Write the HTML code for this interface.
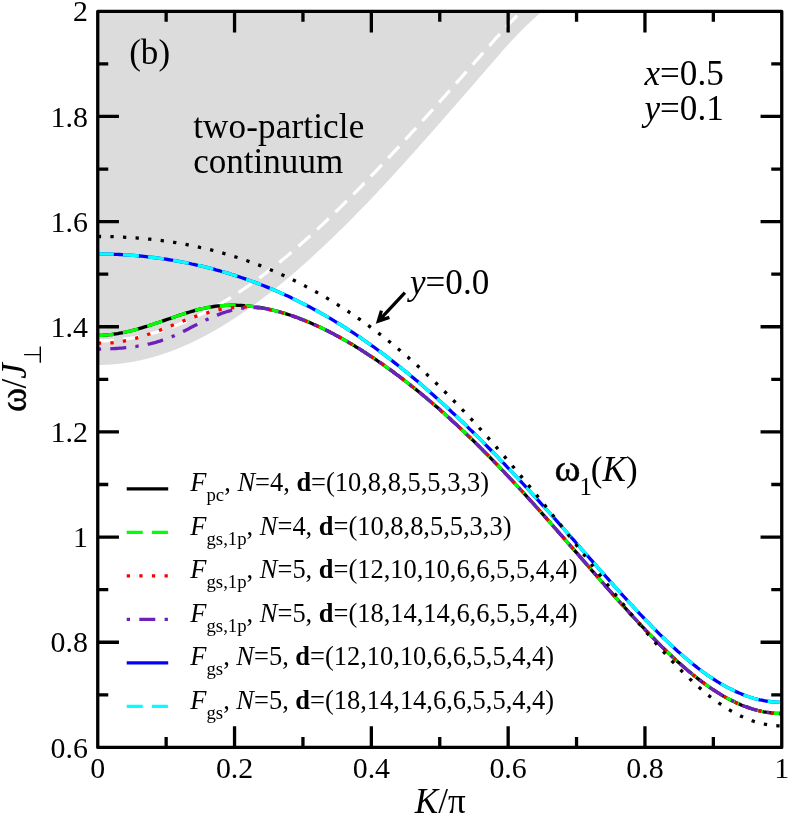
<!DOCTYPE html>
<html><head><meta charset="utf-8"><title>omega1(K)</title>
<style>
html,body{margin:0;padding:0;background:#fff;}
svg{display:block;font-family:"Liberation Serif",serif;will-change:transform;}
text{fill:#000;white-space:pre;}
</style></head>
<body>
<svg width="789" height="816" viewBox="0 0 789 816">
<rect width="789" height="816" fill="#fff"/>
<path d="M97.8,11.3 L542.0,11.3 L541.8,11.6 L540.8,12.4 L539.8,13.3 L538.8,14.2 L537.8,15.1 L536.8,16.0 L535.8,16.9 L534.8,17.8 L533.8,18.7 L532.8,19.6 L531.8,20.6 L530.8,21.5 L529.8,22.4 L528.8,23.4 L527.8,24.3 L526.8,25.3 L525.8,26.3 L524.8,27.2 L523.8,28.2 L522.8,29.2 L521.8,30.2 L520.8,31.2 L519.8,32.2 L518.8,33.2 L517.8,34.3 L516.8,35.3 L515.8,36.3 L514.8,37.4 L513.8,38.4 L512.8,39.5 L511.8,40.6 L510.7,41.7 L509.8,42.7 L508.8,43.8 L507.7,44.9 L506.8,46.1 L505.8,47.2 L504.7,48.3 L503.8,49.4 L502.7,50.6 L501.7,51.7 L500.8,52.9 L499.7,54.0 L498.8,55.2 L497.8,56.4 L496.7,57.5 L495.8,58.7 L494.7,59.8 L493.8,61.0 L492.8,62.1 L491.7,63.3 L490.8,64.4 L489.8,65.6 L488.7,66.7 L487.8,67.9 L486.7,69.1 L485.7,70.2 L484.8,71.4 L483.7,72.5 L482.8,73.7 L481.8,74.8 L480.7,76.0 L479.8,77.1 L478.7,78.3 L477.8,79.4 L476.8,80.6 L475.7,81.7 L474.8,82.9 L473.8,84.0 L472.7,85.2 L471.8,86.4 L470.7,87.5 L469.7,88.7 L468.8,89.8 L467.7,91.0 L466.8,92.1 L465.8,93.3 L464.7,94.4 L463.8,95.5 L462.7,96.7 L461.8,97.8 L460.8,99.0 L459.7,100.1 L458.8,101.3 L457.8,102.4 L456.7,103.6 L455.8,104.7 L454.7,105.9 L453.7,107.0 L452.8,108.1 L451.7,109.3 L450.8,110.4 L449.8,111.6 L448.7,112.7 L447.8,113.9 L446.7,115.0 L445.8,116.2 L444.8,117.3 L443.7,118.4 L442.8,119.6 L441.8,120.7 L440.7,121.9 L439.8,123.0 L438.8,124.1 L437.8,125.3 L436.8,126.4 L435.7,127.6 L434.8,128.7 L433.8,129.8 L432.8,131.0 L431.8,132.1 L430.8,133.2 L429.8,134.4 L428.8,135.5 L427.7,136.6 L426.8,137.8 L425.8,138.9 L424.8,140.0 L423.8,141.1 L422.8,142.3 L421.8,143.4 L420.8,144.5 L419.7,145.6 L418.8,146.8 L417.8,147.9 L416.8,149.0 L415.8,150.1 L414.8,151.2 L413.8,152.4 L412.8,153.5 L411.7,154.6 L410.8,155.7 L409.8,156.8 L408.8,157.9 L407.8,159.0 L406.8,160.1 L405.8,161.3 L404.8,162.4 L403.7,163.5 L402.8,164.6 L401.8,165.7 L400.8,166.8 L399.8,167.9 L398.8,169.0 L397.8,170.1 L396.8,171.2 L395.7,172.3 L394.8,173.4 L393.8,174.5 L392.8,175.6 L391.8,176.7 L390.8,177.7 L389.8,178.8 L388.8,179.9 L387.7,181.0 L386.8,182.1 L385.8,183.2 L384.8,184.3 L383.8,185.3 L382.8,186.4 L381.8,187.5 L380.8,188.6 L379.7,189.6 L378.8,190.7 L377.8,191.8 L376.8,192.9 L375.8,193.9 L374.8,195.0 L373.8,196.1 L372.8,197.1 L371.7,198.2 L370.8,199.2 L369.8,200.3 L368.8,201.3 L367.8,202.4 L366.8,203.4 L365.8,204.4 L364.8,205.5 L363.7,206.5 L362.8,207.5 L361.8,208.5 L360.8,209.6 L359.8,210.6 L358.8,211.6 L357.8,212.6 L356.8,213.6 L355.7,214.7 L354.8,215.7 L353.8,216.7 L352.8,217.7 L351.8,218.7 L350.8,219.7 L349.8,220.7 L348.8,221.7 L347.8,222.7 L346.8,223.7 L345.8,224.7 L344.8,225.7 L343.8,226.7 L342.8,227.7 L341.8,228.7 L340.8,229.6 L339.8,230.6 L338.8,231.6 L337.8,232.6 L336.8,233.6 L335.8,234.5 L334.8,235.5 L333.8,236.5 L332.8,237.4 L331.8,238.4 L330.8,239.4 L329.8,240.3 L328.8,241.3 L327.8,242.2 L326.8,243.2 L325.8,244.1 L324.8,245.1 L323.8,246.0 L322.8,247.0 L321.8,247.9 L320.8,248.8 L319.8,249.8 L318.8,250.7 L317.8,251.6 L316.8,252.6 L315.8,253.5 L314.8,254.4 L313.8,255.3 L312.8,256.2 L311.8,257.2 L310.8,258.1 L309.8,259.0 L308.8,259.9 L307.8,260.8 L306.8,261.7 L305.8,262.6 L304.8,263.5 L303.8,264.4 L302.8,265.3 L301.8,266.1 L300.8,267.0 L299.8,267.9 L298.8,268.8 L297.8,269.7 L296.8,270.5 L295.8,271.4 L294.8,272.3 L293.8,273.1 L292.8,274.0 L291.8,274.9 L290.8,275.7 L289.8,276.6 L288.8,277.4 L287.8,278.3 L286.8,279.1 L285.8,279.9 L284.8,280.8 L283.8,281.6 L282.8,282.4 L281.8,283.3 L280.8,284.1 L279.8,284.9 L278.8,285.7 L277.8,286.5 L276.8,287.3 L275.8,288.1 L274.8,289.0 L273.8,289.8 L272.8,290.5 L271.8,291.3 L270.8,292.1 L269.8,292.9 L268.8,293.7 L267.8,294.5 L266.8,295.3 L265.8,296.0 L264.8,296.8 L263.8,297.6 L262.8,298.3 L261.8,299.1 L260.8,299.8 L259.8,300.6 L258.8,301.3 L257.8,302.1 L256.8,302.8 L255.8,303.6 L254.7,304.3 L253.8,305.0 L252.8,305.8 L251.8,306.5 L250.7,307.2 L249.8,307.9 L248.8,308.6 L247.8,309.3 L246.7,310.0 L245.8,310.7 L244.8,311.4 L243.8,312.1 L242.7,312.8 L241.8,313.5 L240.8,314.2 L239.8,314.8 L238.7,315.5 L237.8,316.2 L236.8,316.9 L235.8,317.5 L234.7,318.2 L233.8,318.8 L232.8,319.5 L231.8,320.1 L230.7,320.8 L229.8,321.4 L228.8,322.0 L227.8,322.7 L226.7,323.3 L225.8,323.9 L224.8,324.5 L223.8,325.1 L222.8,325.7 L221.8,326.3 L220.8,326.9 L219.8,327.5 L218.8,328.1 L217.8,328.7 L216.8,329.3 L215.8,329.9 L214.8,330.4 L213.8,331.0 L212.8,331.6 L211.8,332.1 L210.8,332.7 L209.8,333.2 L208.8,333.8 L207.8,334.3 L206.8,334.9 L205.8,335.4 L204.8,335.9 L203.8,336.5 L202.8,337.0 L201.8,337.5 L200.8,338.0 L199.8,338.5 L198.8,339.0 L197.8,339.5 L196.8,340.0 L195.8,340.5 L194.8,341.0 L193.8,341.5 L192.8,342.0 L191.8,342.4 L190.8,342.9 L189.8,343.4 L188.8,343.8 L187.8,344.3 L186.8,344.7 L185.8,345.2 L184.8,345.6 L183.8,346.1 L182.8,346.5 L181.8,346.9 L180.8,347.3 L179.8,347.8 L178.8,348.2 L177.8,348.6 L176.8,349.0 L175.8,349.4 L174.8,349.8 L173.8,350.2 L172.8,350.5 L171.8,350.9 L170.8,351.3 L169.8,351.7 L168.8,352.0 L167.8,352.4 L166.8,352.7 L165.8,353.1 L164.8,353.4 L163.8,353.8 L162.8,354.1 L161.8,354.4 L160.8,354.8 L159.8,355.1 L158.8,355.4 L157.8,355.7 L156.8,356.0 L155.8,356.3 L154.8,356.6 L153.8,356.9 L152.8,357.2 L151.8,357.5 L150.8,357.7 L149.8,358.0 L148.8,358.3 L147.8,358.5 L146.8,358.8 L145.8,359.0 L144.8,359.3 L143.8,359.5 L142.8,359.8 L141.8,360.0 L140.8,360.2 L139.8,360.4 L138.8,360.6 L137.8,360.8 L136.8,361.0 L135.8,361.2 L134.8,361.4 L133.8,361.6 L132.8,361.8 L131.8,362.0 L130.8,362.2 L129.8,362.3 L128.8,362.5 L127.8,362.6 L126.8,362.8 L125.8,362.9 L124.8,363.1 L123.8,363.2 L122.8,363.3 L121.8,363.5 L120.8,363.6 L119.8,363.7 L118.8,363.8 L117.8,363.9 L116.8,364.0 L115.8,364.1 L114.8,364.2 L113.8,364.3 L112.8,364.4 L111.8,364.4 L110.8,364.5 L109.8,364.6 L108.8,364.6 L107.8,364.7 L106.8,364.7 L105.8,364.8 L104.8,364.8 L103.8,364.8 L102.8,364.9 L101.8,364.9 L100.8,364.9 L99.8,364.9 L98.8,364.9 L97.8,364.9 Z" fill="#dcdcdc" stroke="none"/>
<path d="M97.8,340.9 L98.8,340.9 L99.8,340.9 L100.8,340.9 L101.8,340.9 L102.8,340.8 L103.8,340.8 L104.8,340.8 L105.8,340.7 L106.8,340.7 L107.8,340.7 L108.8,340.6 L109.8,340.5 L110.8,340.5 L111.8,340.4 L112.8,340.3 L113.8,340.3 L114.8,340.2 L115.8,340.1 L116.8,340.0 L117.8,339.9 L118.8,339.8 L119.8,339.7 L120.8,339.6 L121.8,339.5 L122.8,339.3 L123.8,339.2 L124.8,339.1 L125.8,338.9 L126.8,338.8 L127.8,338.7 L128.8,338.5 L129.8,338.3 L130.8,338.2 L131.8,338.0 L132.8,337.8 L133.8,337.7 L134.8,337.5 L135.8,337.3 L136.8,337.1 L137.8,336.9 L138.8,336.7 L139.8,336.5 L140.8,336.3 L141.8,336.0 L142.8,335.8 L143.8,335.6 L144.8,335.3 L145.8,335.1 L146.8,334.9 L147.8,334.6 L148.8,334.4 L149.8,334.1 L150.8,333.8 L151.8,333.6 L152.8,333.3 L153.8,333.0 L154.8,332.7 L155.8,332.4 L156.8,332.1 L157.8,331.8 L158.8,331.5 L159.8,331.2 L160.8,330.9 L161.8,330.6 L162.8,330.3 L163.8,329.9 L164.8,329.6 L165.8,329.3 L166.8,328.9 L167.8,328.6 L168.8,328.2 L169.8,327.9 L170.8,327.5 L171.8,327.1 L172.8,326.8 L173.8,326.4 L174.8,326.0 L175.8,325.6 L176.8,325.2 L177.8,324.8 L178.8,324.4 L179.8,324.0 L180.8,323.6 L181.8,323.2 L182.8,322.8 L183.8,322.3 L184.8,321.9 L185.8,321.5 L186.8,321.0 L187.8,320.6 L188.8,320.2 L189.8,319.7 L190.8,319.2 L191.8,318.8 L192.8,318.3 L193.8,317.8 L194.8,317.4 L195.8,316.9 L196.8,316.4 L197.8,315.9 L198.8,315.4 L199.8,314.9 L200.8,314.4 L201.8,313.9 L202.8,313.4 L203.8,312.9 L204.8,312.4 L205.8,311.9 L206.8,311.3 L207.8,310.8 L208.8,310.3 L209.8,309.7 L210.8,309.2 L211.8,308.7 L212.8,308.1 L213.8,307.6 L214.8,307.0 L215.8,306.4 L216.8,305.9 L217.8,305.3 L218.8,304.7 L219.8,304.1 L220.8,303.6 L221.8,303.0 L222.8,302.4 L223.8,301.8 L224.8,301.2 L225.8,300.6 L226.7,300.0 L227.8,299.3 L228.8,298.7 L229.8,298.1 L230.7,297.5 L231.8,296.8 L232.8,296.2 L233.8,295.6 L234.7,294.9 L235.8,294.3 L236.8,293.6 L237.8,293.0 L238.7,292.3 L239.8,291.7 L240.8,291.0 L241.8,290.3 L242.7,289.7 L243.8,289.0 L244.8,288.3 L245.8,287.6 L246.7,286.9 L247.8,286.2 L248.8,285.5 L249.8,284.8 L250.7,284.1 L251.8,283.4 L252.8,282.7 L253.8,282.0 L254.7,281.3 L255.8,280.5 L256.8,279.8 L257.8,279.1 L258.8,278.3 L259.8,277.6 L260.8,276.9 L261.8,276.1 L262.8,275.4 L263.8,274.6 L264.8,273.8 L265.8,273.1 L266.8,272.3 L267.8,271.5 L268.8,270.8 L269.8,270.0 L270.8,269.2 L271.8,268.4 L272.8,267.6 L273.8,266.8 L274.8,266.0 L275.8,265.2 L276.8,264.4 L277.8,263.6 L278.8,262.8 L279.8,262.0 L280.8,261.2 L281.8,260.3 L282.8,259.5 L283.8,258.7 L284.8,257.9 L285.8,257.0 L286.8,256.2 L287.8,255.4 L288.8,254.5 L289.8,253.7 L290.8,252.8 L291.8,252.0 L292.8,251.1 L293.8,250.3 L294.8,249.4 L295.8,248.5 L296.8,247.7 L297.8,246.8 L298.8,245.9 L299.8,245.1 L300.8,244.2 L301.8,243.3 L302.8,242.4 L303.8,241.5 L304.8,240.6 L305.8,239.7 L306.8,238.8 L307.8,237.9 L308.8,237.0 L309.8,236.1 L310.8,235.2 L311.8,234.3 L312.8,233.4 L313.8,232.5 L314.8,231.6 L315.8,230.7 L316.8,229.7 L317.8,228.8 L318.8,227.9 L319.8,226.9 L320.8,226.0 L321.8,225.1 L322.8,224.1 L323.8,223.2 L324.8,222.3 L325.8,221.3 L326.8,220.4 L327.8,219.4 L328.8,218.5 L329.8,217.5 L330.8,216.5 L331.8,215.6 L332.8,214.6 L333.8,213.7 L334.8,212.7 L335.8,211.7 L336.8,210.7 L337.8,209.8 L338.8,208.8 L339.8,207.8 L340.8,206.8 L341.8,205.9 L342.8,204.9 L343.8,203.9 L344.8,202.9 L345.8,201.9 L346.8,200.9 L347.8,199.9 L348.8,198.9 L349.8,197.9 L350.8,196.9 L351.8,195.9 L352.8,194.9 L353.8,193.9 L354.8,192.9 L355.7,191.9 L356.8,190.9 L357.8,189.8 L358.8,188.8 L359.8,187.8 L360.8,186.8 L361.8,185.8 L362.8,184.7 L363.7,183.7 L364.8,182.7 L365.8,181.7 L366.8,180.6 L367.8,179.6 L368.8,178.6 L369.8,177.5 L370.8,176.5 L371.7,175.4 L372.8,174.4 L373.8,173.4 L374.8,172.3 L375.8,171.3 L376.8,170.2 L377.8,169.2 L378.8,168.1 L379.7,167.1 L380.8,166.0 L381.8,164.9 L382.8,163.9 L383.8,162.8 L384.8,161.8 L385.8,160.7 L386.8,159.6 L387.7,158.6 L388.8,157.5 L389.8,156.4 L390.8,155.4 L391.8,154.3 L392.8,153.2 L393.8,152.2 L394.8,151.1 L395.7,150.0 L396.8,148.9 L397.8,147.9 L398.8,146.8 L399.8,145.7 L400.8,144.6 L401.8,143.5 L402.8,142.4 L403.7,141.4 L404.8,140.3 L405.8,139.2 L406.8,138.1 L407.8,137.0 L408.8,135.9 L409.8,134.8 L410.8,133.7 L411.7,132.6 L412.8,131.5 L413.8,130.4 L414.8,129.4 L415.8,128.3 L416.8,127.2 L417.8,126.1 L418.8,125.0 L419.7,123.9 L420.8,122.8 L421.8,121.6 L422.8,120.5 L423.8,119.4 L424.8,118.3 L425.8,117.2 L426.8,116.1 L427.7,115.0 L428.8,113.9 L429.8,112.8 L430.8,111.7 L431.8,110.6 L432.8,109.5 L433.8,108.3 L434.8,107.2 L435.7,106.1 L436.8,105.0 L437.8,103.9 L438.8,102.8 L439.8,101.7 L440.7,100.5 L441.8,99.4 L442.8,98.3 L443.7,97.2 L444.8,96.1 L445.8,94.9 L446.7,93.8 L447.8,92.7 L448.7,91.6 L449.8,90.5 L450.8,89.3 L451.7,88.2 L452.8,87.1 L453.7,86.0 L454.7,84.8 L455.8,83.7 L456.7,82.6 L457.8,81.5 L458.8,80.3 L459.7,79.2 L460.8,78.1 L461.8,77.0 L462.7,75.8 L463.8,74.7 L464.7,73.6 L465.8,72.4 L466.8,71.3 L467.7,70.2 L468.8,69.0 L469.7,67.9 L470.7,66.8 L471.8,65.7 L472.7,64.5 L473.8,63.4 L474.8,62.3 L475.7,61.1 L476.8,60.0 L477.8,58.9 L478.7,57.7 L479.8,56.6 L480.7,55.5 L481.8,54.3 L482.8,53.2 L483.7,52.1 L484.8,50.9 L485.7,49.8 L486.7,48.7 L487.8,47.6 L488.7,46.4 L489.8,45.3 L490.8,44.2 L491.7,43.0 L492.8,41.9 L493.8,40.8 L494.7,39.6 L495.8,38.5 L496.7,37.4 L497.8,36.3 L498.8,35.2 L499.7,34.1 L500.8,33.0 L501.7,31.9 L502.7,30.8 L503.8,29.7 L504.7,28.6 L505.8,27.5 L506.8,26.4 L507.7,25.4 L508.8,24.3 L509.8,23.2 L510.7,22.2 L511.8,21.1 L512.8,20.1 L513.8,19.0 L514.8,18.0 L515.8,17.0 L516.8,15.9 L517.8,14.9 L518.8,13.9 L519.8,12.9 L520.8,11.9 L521.8,10.9 L522.8,9.8" fill="none" stroke="#fff" stroke-width="3.2" stroke-dasharray="16 9.2"/>
<g fill="none" stroke-width="3.3" stroke-linejoin="round">
<path d="M97.8,335.4 L99.8,335.4 L101.8,335.3 L103.8,335.2 L105.8,335.1 L107.8,334.9 L109.8,334.7 L111.8,334.5 L113.8,334.2 L115.8,333.9 L117.8,333.6 L119.8,333.2 L121.8,332.8 L123.8,332.4 L125.8,332.0 L127.8,331.5 L129.8,331.1 L131.8,330.6 L133.8,330.1 L135.8,329.5 L137.8,329.0 L139.8,328.4 L141.8,327.8 L143.8,327.2 L145.8,326.6 L147.8,326.0 L149.8,325.3 L151.8,324.7 L153.8,324.0 L155.8,323.3 L157.8,322.7 L159.8,322.0 L161.8,321.3 L163.8,320.6 L165.8,319.9 L167.8,319.2 L169.8,318.6 L171.8,317.9 L173.8,317.2 L175.8,316.5 L177.8,315.8 L179.8,315.1 L181.8,314.5 L183.8,313.8 L185.8,313.2 L187.8,312.6 L189.8,312.0 L191.8,311.4 L193.8,310.8 L195.8,310.2 L197.8,309.7 L199.8,309.2 L201.8,308.7 L203.8,308.3 L205.8,307.8 L207.8,307.5 L209.8,307.1 L211.8,306.8 L213.8,306.5 L215.8,306.2 L217.8,306.0 L219.8,305.8 L221.8,305.6 L223.8,305.5 L225.8,305.3 L227.8,305.3 L229.8,305.2 L231.8,305.2 L233.8,305.2 L235.8,305.2 L237.8,305.3 L239.8,305.3 L241.8,305.4 L243.8,305.6 L245.8,305.7 L247.8,305.9 L249.8,306.1 L251.8,306.3 L253.8,306.6 L255.8,306.9 L257.8,307.2 L259.8,307.5 L261.8,307.8 L263.8,308.2 L265.8,308.6 L267.8,309.0 L269.8,309.4 L271.8,309.9 L273.8,310.4 L275.8,310.9 L277.8,311.4 L279.8,312.0 L281.8,312.5 L283.8,313.1 L285.8,313.7 L287.8,314.4 L289.8,315.0 L291.8,315.7 L293.8,316.4 L295.8,317.1 L297.8,317.8 L299.8,318.6 L301.8,319.4 L303.8,320.1 L305.8,321.0 L307.8,321.8 L309.8,322.6 L311.8,323.5 L313.8,324.4 L315.8,325.3 L317.8,326.2 L319.8,327.1 L321.8,328.1 L323.8,329.0 L325.8,330.0 L327.8,331.0 L329.8,332.0 L331.8,333.1 L333.8,334.1 L335.8,335.2 L337.8,336.2 L339.8,337.3 L341.8,338.5 L343.8,339.6 L345.8,340.7 L347.8,341.9 L349.8,343.1 L351.8,344.2 L353.8,345.4 L355.7,346.7 L357.8,347.9 L359.8,349.1 L361.8,350.4 L363.7,351.7 L365.8,353.0 L367.8,354.3 L369.8,355.6 L371.7,356.9 L373.8,358.2 L375.8,359.6 L377.8,361.0 L379.7,362.3 L381.8,363.7 L383.8,365.1 L385.8,366.6 L387.7,368.0 L389.8,369.4 L391.8,370.9 L393.8,372.4 L395.7,373.9 L397.8,375.3 L399.8,376.9 L401.8,378.4 L403.7,379.9 L405.8,381.5 L407.8,383.0 L409.8,384.6 L411.7,386.2 L413.8,387.8 L415.8,389.4 L417.8,391.0 L419.7,392.6 L421.8,394.3 L423.8,395.9 L425.8,397.6 L427.7,399.3 L429.8,401.0 L431.8,402.7 L433.8,404.4 L435.7,406.1 L437.8,407.8 L439.8,409.6 L441.8,411.4 L443.7,413.1 L445.8,414.9 L447.8,416.7 L449.8,418.5 L451.7,420.4 L453.7,422.2 L455.8,424.0 L457.8,425.9 L459.7,427.8 L461.8,429.7 L463.8,431.5 L465.8,433.5 L467.7,435.4 L469.7,437.3 L471.8,439.2 L473.8,441.2 L475.7,443.1 L477.8,445.1 L479.8,447.1 L481.8,449.1 L483.7,451.1 L485.7,453.1 L487.8,455.1 L489.8,457.2 L491.7,459.2 L493.8,461.3 L495.8,463.3 L497.8,465.4 L499.7,467.5 L501.7,469.6 L503.8,471.7 L505.8,473.8 L507.7,475.9 L509.8,478.1 L511.8,480.2 L513.8,482.3 L515.8,484.5 L517.8,486.7 L519.8,488.8 L521.8,491.0 L523.8,493.2 L525.8,495.4 L527.8,497.6 L529.8,499.8 L531.8,502.0 L533.8,504.2 L535.8,506.5 L537.8,508.7 L539.8,510.9 L541.8,513.2 L543.8,515.4 L545.8,517.7 L547.8,519.9 L549.8,522.2 L551.8,524.5 L553.8,526.8 L555.8,529.0 L557.8,531.3 L559.8,533.6 L561.8,535.9 L563.8,538.2 L565.8,540.5 L567.8,542.8 L569.8,545.1 L571.8,547.3 L573.8,549.6 L575.8,551.9 L577.8,554.2 L579.8,556.5 L581.8,558.8 L583.8,561.1 L585.8,563.4 L587.8,565.7 L589.8,568.0 L591.8,570.3 L593.8,572.6 L595.8,574.9 L597.8,577.2 L599.8,579.5 L601.8,581.8 L603.8,584.0 L605.8,586.3 L607.8,588.6 L609.8,590.9 L611.8,593.1 L613.7,595.4 L615.8,597.6 L617.8,599.9 L619.8,602.1 L621.8,604.3 L623.8,606.5 L625.8,608.7 L627.8,610.9 L629.7,613.1 L631.8,615.3 L633.8,617.5 L635.8,619.7 L637.8,621.8 L639.8,623.9 L641.8,626.1 L643.8,628.2 L645.7,630.3 L647.8,632.4 L649.8,634.4 L651.8,636.5 L653.8,638.5 L655.8,640.6 L657.8,642.6 L659.8,644.6 L661.7,646.6 L663.8,648.5 L665.8,650.5 L667.8,652.4 L669.8,654.3 L671.8,656.2 L673.8,658.0 L675.8,659.9 L677.7,661.7 L679.8,663.5 L681.8,665.3 L683.8,667.0 L685.8,668.8 L687.8,670.5 L689.8,672.1 L691.8,673.8 L693.7,675.4 L695.8,677.0 L697.8,678.6 L699.8,680.1 L701.8,681.6 L703.8,683.1 L705.8,684.6 L707.8,686.0 L709.7,687.4 L711.8,688.8 L713.8,690.1 L715.8,691.4 L717.8,692.7 L719.8,693.9 L721.8,695.1 L723.8,696.3 L725.7,697.4 L727.8,698.5 L729.8,699.6 L731.8,700.6 L733.8,701.6 L735.8,702.5 L737.8,703.5 L739.8,704.3 L741.7,705.2 L743.8,706.0 L745.8,706.7 L747.8,707.4 L749.8,708.1 L751.8,708.8 L753.8,709.4 L755.8,709.9 L757.7,710.5 L759.8,710.9 L761.8,711.4 L763.8,711.8 L765.8,712.1 L767.8,712.5 L769.8,712.7 L771.8,713.0 L773.7,713.1 L775.8,713.3 L777.8,713.4 L779.8,713.5 L781.8,713.5" stroke="#000"/>
<path d="M97.8,335.4 L99.8,335.4 L101.8,335.3 L103.8,335.2 L105.8,335.1 L107.8,334.9 L109.8,334.7 L111.8,334.5 L113.8,334.2 L115.8,333.9 L117.8,333.6 L119.8,333.2 L121.8,332.8 L123.8,332.4 L125.8,332.0 L127.8,331.5 L129.8,331.1 L131.8,330.6 L133.8,330.1 L135.8,329.5 L137.8,329.0 L139.8,328.4 L141.8,327.8 L143.8,327.2 L145.8,326.6 L147.8,326.0 L149.8,325.3 L151.8,324.7 L153.8,324.0 L155.8,323.3 L157.8,322.7 L159.8,322.0 L161.8,321.3 L163.8,320.6 L165.8,319.9 L167.8,319.2 L169.8,318.6 L171.8,317.9 L173.8,317.2 L175.8,316.5 L177.8,315.8 L179.8,315.1 L181.8,314.5 L183.8,313.8 L185.8,313.2 L187.8,312.6 L189.8,312.0 L191.8,311.4 L193.8,310.8 L195.8,310.2 L197.8,309.7 L199.8,309.2 L201.8,308.7 L203.8,308.3 L205.8,307.8 L207.8,307.5 L209.8,307.1 L211.8,306.8 L213.8,306.5 L215.8,306.2 L217.8,306.0 L219.8,305.8 L221.8,305.6 L223.8,305.5 L225.8,305.3 L227.8,305.3 L229.8,305.2 L231.8,305.2 L233.8,305.2 L235.8,305.2 L237.8,305.3 L239.8,305.3 L241.8,305.4 L243.8,305.6 L245.8,305.7 L247.8,305.9 L249.8,306.1 L251.8,306.3 L253.8,306.6 L255.8,306.9 L257.8,307.2 L259.8,307.5 L261.8,307.8 L263.8,308.2 L265.8,308.6 L267.8,309.0 L269.8,309.4 L271.8,309.9 L273.8,310.4 L275.8,310.9 L277.8,311.4 L279.8,312.0 L281.8,312.5 L283.8,313.1 L285.8,313.7 L287.8,314.4 L289.8,315.0 L291.8,315.7 L293.8,316.4 L295.8,317.1 L297.8,317.8 L299.8,318.6 L301.8,319.4 L303.8,320.1 L305.8,321.0 L307.8,321.8 L309.8,322.6 L311.8,323.5 L313.8,324.4 L315.8,325.3 L317.8,326.2 L319.8,327.1 L321.8,328.1 L323.8,329.0 L325.8,330.0 L327.8,331.0 L329.8,332.0 L331.8,333.1 L333.8,334.1 L335.8,335.2 L337.8,336.2 L339.8,337.3 L341.8,338.5 L343.8,339.6 L345.8,340.7 L347.8,341.9 L349.8,343.1 L351.8,344.2 L353.8,345.4 L355.7,346.7 L357.8,347.9 L359.8,349.1 L361.8,350.4 L363.7,351.7 L365.8,353.0 L367.8,354.3 L369.8,355.6 L371.7,356.9 L373.8,358.2 L375.8,359.6 L377.8,361.0 L379.7,362.3 L381.8,363.7 L383.8,365.1 L385.8,366.6 L387.7,368.0 L389.8,369.4 L391.8,370.9 L393.8,372.4 L395.7,373.9 L397.8,375.3 L399.8,376.9 L401.8,378.4 L403.7,379.9 L405.8,381.5 L407.8,383.0 L409.8,384.6 L411.7,386.2 L413.8,387.8 L415.8,389.4 L417.8,391.0 L419.7,392.6 L421.8,394.3 L423.8,395.9 L425.8,397.6 L427.7,399.3 L429.8,401.0 L431.8,402.7 L433.8,404.4 L435.7,406.1 L437.8,407.8 L439.8,409.6 L441.8,411.4 L443.7,413.1 L445.8,414.9 L447.8,416.7 L449.8,418.5 L451.7,420.4 L453.7,422.2 L455.8,424.0 L457.8,425.9 L459.7,427.8 L461.8,429.7 L463.8,431.5 L465.8,433.5 L467.7,435.4 L469.7,437.3 L471.8,439.2 L473.8,441.2 L475.7,443.1 L477.8,445.1 L479.8,447.1 L481.8,449.1 L483.7,451.1 L485.7,453.1 L487.8,455.1 L489.8,457.2 L491.7,459.2 L493.8,461.3 L495.8,463.3 L497.8,465.4 L499.7,467.5 L501.7,469.6 L503.8,471.7 L505.8,473.8 L507.7,475.9 L509.8,478.1 L511.8,480.2 L513.8,482.3 L515.8,484.5 L517.8,486.7 L519.8,488.8 L521.8,491.0 L523.8,493.2 L525.8,495.4 L527.8,497.6 L529.8,499.8 L531.8,502.0 L533.8,504.2 L535.8,506.5 L537.8,508.7 L539.8,510.9 L541.8,513.2 L543.8,515.4 L545.8,517.7 L547.8,519.9 L549.8,522.2 L551.8,524.5 L553.8,526.8 L555.8,529.0 L557.8,531.3 L559.8,533.6 L561.8,535.9 L563.8,538.2 L565.8,540.5 L567.8,542.8 L569.8,545.1 L571.8,547.3 L573.8,549.6 L575.8,551.9 L577.8,554.2 L579.8,556.5 L581.8,558.8 L583.8,561.1 L585.8,563.4 L587.8,565.7 L589.8,568.0 L591.8,570.3 L593.8,572.6 L595.8,574.9 L597.8,577.2 L599.8,579.5 L601.8,581.8 L603.8,584.0 L605.8,586.3 L607.8,588.6 L609.8,590.9 L611.8,593.1 L613.7,595.4 L615.8,597.6 L617.8,599.9 L619.8,602.1 L621.8,604.3 L623.8,606.5 L625.8,608.7 L627.8,610.9 L629.7,613.1 L631.8,615.3 L633.8,617.5 L635.8,619.7 L637.8,621.8 L639.8,623.9 L641.8,626.1 L643.8,628.2 L645.7,630.3 L647.8,632.4 L649.8,634.4 L651.8,636.5 L653.8,638.5 L655.8,640.6 L657.8,642.6 L659.8,644.6 L661.7,646.6 L663.8,648.5 L665.8,650.5 L667.8,652.4 L669.8,654.3 L671.8,656.2 L673.8,658.0 L675.8,659.9 L677.7,661.7 L679.8,663.5 L681.8,665.3 L683.8,667.0 L685.8,668.8 L687.8,670.5 L689.8,672.1 L691.8,673.8 L693.7,675.4 L695.8,677.0 L697.8,678.6 L699.8,680.1 L701.8,681.6 L703.8,683.1 L705.8,684.6 L707.8,686.0 L709.7,687.4 L711.8,688.8 L713.8,690.1 L715.8,691.4 L717.8,692.7 L719.8,693.9 L721.8,695.1 L723.8,696.3 L725.7,697.4 L727.8,698.5 L729.8,699.6 L731.8,700.6 L733.8,701.6 L735.8,702.5 L737.8,703.5 L739.8,704.3 L741.7,705.2 L743.8,706.0 L745.8,706.7 L747.8,707.4 L749.8,708.1 L751.8,708.8 L753.8,709.4 L755.8,709.9 L757.7,710.5 L759.8,710.9 L761.8,711.4 L763.8,711.8 L765.8,712.1 L767.8,712.5 L769.8,712.7 L771.8,713.0 L773.7,713.1 L775.8,713.3 L777.8,713.4 L779.8,713.5 L781.8,713.5" stroke="#00ff00" stroke-dasharray="16 9.2"/>
<path d="M97.8,342.9 L99.8,343.1 L101.8,343.1 L103.8,343.2 L105.8,343.1 L107.8,343.1 L109.8,343.0 L111.8,342.8 L113.8,342.6 L115.8,342.4 L117.8,342.1 L119.8,341.8 L121.8,341.5 L123.8,341.1 L125.8,340.7 L127.8,340.3 L129.8,339.8 L131.8,339.4 L133.8,338.8 L135.8,338.3 L137.8,337.7 L139.8,337.1 L141.8,336.5 L143.8,335.9 L145.8,335.2 L147.8,334.5 L149.8,333.9 L151.8,333.1 L153.8,332.4 L155.8,331.7 L157.8,330.9 L159.8,330.2 L161.8,329.4 L163.8,328.6 L165.8,327.9 L167.8,327.1 L169.8,326.3 L171.8,325.5 L173.8,324.7 L175.8,323.9 L177.8,323.1 L179.8,322.3 L181.8,321.6 L183.8,320.8 L185.8,320.0 L187.8,319.3 L189.8,318.5 L191.8,317.8 L193.8,317.1 L195.8,316.4 L197.8,315.7 L199.8,315.0 L201.8,314.4 L203.8,313.8 L205.8,313.2 L207.8,312.6 L209.8,312.0 L211.8,311.5 L213.8,311.0 L215.8,310.5 L217.8,310.1 L219.8,309.6 L221.8,309.3 L223.8,308.9 L225.8,308.6 L227.8,308.3 L229.8,308.0 L231.8,307.8 L233.8,307.6 L235.8,307.4 L237.8,307.3 L239.8,307.2 L241.8,307.2 L243.8,307.1 L245.8,307.2 L247.8,307.2 L249.8,307.3 L251.8,307.4 L253.8,307.5 L255.8,307.7 L257.8,307.9 L259.8,308.2 L261.8,308.4 L263.8,308.7 L265.8,309.1 L267.8,309.4 L269.8,309.8 L271.8,310.2 L273.8,310.6 L275.8,311.1 L277.8,311.6 L279.8,312.1 L281.8,312.7 L283.8,313.2 L285.8,313.8 L287.8,314.4 L289.8,315.1 L291.8,315.7 L293.8,316.4 L295.8,317.1 L297.8,317.8 L299.8,318.6 L301.8,319.4 L303.8,320.1 L305.8,320.9 L307.8,321.8 L309.8,322.6 L311.8,323.5 L313.8,324.4 L315.8,325.3 L317.8,326.2 L319.8,327.1 L321.8,328.1 L323.8,329.0 L325.8,330.0 L327.8,331.0 L329.8,332.0 L331.8,333.1 L333.8,334.1 L335.8,335.2 L337.8,336.2 L339.8,337.3 L341.8,338.5 L343.8,339.6 L345.8,340.7 L347.8,341.9 L349.8,343.1 L351.8,344.2 L353.8,345.4 L355.7,346.7 L357.8,347.9 L359.8,349.1 L361.8,350.4 L363.7,351.7 L365.8,353.0 L367.8,354.3 L369.8,355.6 L371.7,356.9 L373.8,358.2 L375.8,359.6 L377.8,361.0 L379.7,362.3 L381.8,363.7 L383.8,365.1 L385.8,366.6 L387.7,368.0 L389.8,369.4 L391.8,370.9 L393.8,372.4 L395.7,373.9 L397.8,375.3 L399.8,376.9 L401.8,378.4 L403.7,379.9 L405.8,381.5 L407.8,383.0 L409.8,384.6 L411.7,386.2 L413.8,387.8 L415.8,389.4 L417.8,391.0 L419.7,392.6 L421.8,394.3 L423.8,395.9 L425.8,397.6 L427.7,399.3 L429.8,401.0 L431.8,402.7 L433.8,404.4 L435.7,406.1 L437.8,407.8 L439.8,409.6 L441.8,411.4 L443.7,413.1 L445.8,414.9 L447.8,416.7 L449.8,418.5 L451.7,420.4 L453.7,422.2 L455.8,424.0 L457.8,425.9 L459.7,427.8 L461.8,429.7 L463.8,431.5 L465.8,433.5 L467.7,435.4 L469.7,437.3 L471.8,439.2 L473.8,441.2 L475.7,443.1 L477.8,445.1 L479.8,447.1 L481.8,449.1 L483.7,451.1 L485.7,453.1 L487.8,455.1 L489.8,457.2 L491.7,459.2 L493.8,461.3 L495.8,463.3 L497.8,465.4 L499.7,467.5 L501.7,469.6 L503.8,471.7 L505.8,473.8 L507.7,475.9 L509.8,478.1 L511.8,480.2 L513.8,482.3 L515.8,484.5 L517.8,486.7 L519.8,488.8 L521.8,491.0 L523.8,493.2 L525.8,495.4 L527.8,497.6 L529.8,499.8 L531.8,502.0 L533.8,504.2 L535.8,506.5 L537.8,508.7 L539.8,510.9 L541.8,513.2 L543.8,515.4 L545.8,517.7 L547.8,519.9 L549.8,522.2 L551.8,524.5 L553.8,526.8 L555.8,529.0 L557.8,531.3 L559.8,533.6 L561.8,535.9 L563.8,538.2 L565.8,540.5 L567.8,542.8 L569.8,545.1 L571.8,547.3 L573.8,549.6 L575.8,551.9 L577.8,554.2 L579.8,556.5 L581.8,558.8 L583.8,561.1 L585.8,563.4 L587.8,565.7 L589.8,568.0 L591.8,570.3 L593.8,572.6 L595.8,574.9 L597.8,577.2 L599.8,579.5 L601.8,581.8 L603.8,584.0 L605.8,586.3 L607.8,588.6 L609.8,590.9 L611.8,593.1 L613.7,595.4 L615.8,597.6 L617.8,599.9 L619.8,602.1 L621.8,604.3 L623.8,606.5 L625.8,608.7 L627.8,610.9 L629.7,613.1 L631.8,615.3 L633.8,617.5 L635.8,619.7 L637.8,621.8 L639.8,623.9 L641.8,626.1 L643.8,628.2 L645.7,630.3 L647.8,632.4 L649.8,634.4 L651.8,636.5 L653.8,638.5 L655.8,640.6 L657.8,642.6 L659.8,644.6 L661.7,646.6 L663.8,648.5 L665.8,650.5 L667.8,652.4 L669.8,654.3 L671.8,656.2 L673.8,658.0 L675.8,659.9 L677.7,661.7 L679.8,663.5 L681.8,665.3 L683.8,667.0 L685.8,668.8 L687.8,670.5 L689.8,672.1 L691.8,673.8 L693.7,675.4 L695.8,677.0 L697.8,678.6 L699.8,680.1 L701.8,681.6 L703.8,683.1 L705.8,684.6 L707.8,686.0 L709.7,687.4 L711.8,688.8 L713.8,690.1 L715.8,691.4 L717.8,692.7 L719.8,693.9 L721.8,695.1 L723.8,696.3 L725.7,697.4 L727.8,698.5 L729.8,699.6 L731.8,700.6 L733.8,701.6 L735.8,702.5 L737.8,703.5 L739.8,704.3 L741.7,705.2 L743.8,706.0 L745.8,706.7 L747.8,707.4 L749.8,708.1 L751.8,708.8 L753.8,709.4 L755.8,709.9 L757.7,710.5 L759.8,710.9 L761.8,711.4 L763.8,711.8 L765.8,712.1 L767.8,712.5 L769.8,712.7 L771.8,713.0 L773.7,713.1 L775.8,713.3 L777.8,713.4 L779.8,713.5 L781.8,713.5" stroke="#ff0000" stroke-dasharray="3.3 9.3"/>
<path d="M97.8,349.2 L99.8,349.2 L101.8,349.1 L103.8,349.1 L105.8,349.0 L107.8,348.9 L109.8,348.8 L111.8,348.7 L113.8,348.6 L115.8,348.5 L117.8,348.4 L119.8,348.2 L121.8,348.1 L123.8,347.9 L125.8,347.7 L127.8,347.5 L129.8,347.3 L131.8,347.0 L133.8,346.7 L135.8,346.5 L137.8,346.1 L139.8,345.8 L141.8,345.5 L143.8,345.1 L145.8,344.7 L147.8,344.2 L149.8,343.8 L151.8,343.3 L153.8,342.8 L155.8,342.3 L157.8,341.7 L159.8,341.1 L161.8,340.4 L163.8,339.8 L165.8,339.1 L167.8,338.3 L169.8,337.6 L171.8,336.7 L173.8,335.9 L175.8,335.0 L177.8,334.1 L179.8,333.1 L181.8,332.2 L183.8,331.2 L185.8,330.2 L187.8,329.2 L189.8,328.1 L191.8,327.1 L193.8,326.1 L195.8,325.1 L197.8,324.0 L199.8,323.0 L201.8,322.1 L203.8,321.1 L205.8,320.1 L207.8,319.2 L209.8,318.3 L211.8,317.4 L213.8,316.5 L215.8,315.7 L217.8,314.9 L219.8,314.1 L221.8,313.3 L223.8,312.6 L225.8,312.0 L227.8,311.3 L229.8,310.8 L231.8,310.2 L233.8,309.7 L235.8,309.3 L237.8,308.9 L239.8,308.5 L241.8,308.2 L243.8,308.0 L245.8,307.8 L247.8,307.6 L249.8,307.5 L251.8,307.5 L253.8,307.5 L255.8,307.6 L257.8,307.7 L259.8,307.9 L261.8,308.1 L263.8,308.4 L265.8,308.7 L267.8,309.0 L269.8,309.4 L271.8,309.8 L273.8,310.3 L275.8,310.8 L277.8,311.3 L279.8,311.9 L281.8,312.5 L283.8,313.1 L285.8,313.7 L287.8,314.4 L289.8,315.0 L291.8,315.7 L293.8,316.4 L295.8,317.1 L297.8,317.8 L299.8,318.6 L301.8,319.4 L303.8,320.2 L305.8,321.0 L307.8,321.8 L309.8,322.6 L311.8,323.5 L313.8,324.4 L315.8,325.3 L317.8,326.2 L319.8,327.1 L321.8,328.1 L323.8,329.0 L325.8,330.0 L327.8,331.0 L329.8,332.0 L331.8,333.1 L333.8,334.1 L335.8,335.2 L337.8,336.2 L339.8,337.3 L341.8,338.5 L343.8,339.6 L345.8,340.7 L347.8,341.9 L349.8,343.1 L351.8,344.2 L353.8,345.4 L355.7,346.7 L357.8,347.9 L359.8,349.1 L361.8,350.4 L363.7,351.7 L365.8,353.0 L367.8,354.3 L369.8,355.6 L371.7,356.9 L373.8,358.2 L375.8,359.6 L377.8,361.0 L379.7,362.3 L381.8,363.7 L383.8,365.1 L385.8,366.6 L387.7,368.0 L389.8,369.4 L391.8,370.9 L393.8,372.4 L395.7,373.9 L397.8,375.3 L399.8,376.9 L401.8,378.4 L403.7,379.9 L405.8,381.5 L407.8,383.0 L409.8,384.6 L411.7,386.2 L413.8,387.8 L415.8,389.4 L417.8,391.0 L419.7,392.6 L421.8,394.3 L423.8,395.9 L425.8,397.6 L427.7,399.3 L429.8,401.0 L431.8,402.7 L433.8,404.4 L435.7,406.1 L437.8,407.8 L439.8,409.6 L441.8,411.4 L443.7,413.1 L445.8,414.9 L447.8,416.7 L449.8,418.5 L451.7,420.4 L453.7,422.2 L455.8,424.0 L457.8,425.9 L459.7,427.8 L461.8,429.7 L463.8,431.5 L465.8,433.5 L467.7,435.4 L469.7,437.3 L471.8,439.2 L473.8,441.2 L475.7,443.1 L477.8,445.1 L479.8,447.1 L481.8,449.1 L483.7,451.1 L485.7,453.1 L487.8,455.1 L489.8,457.2 L491.7,459.2 L493.8,461.3 L495.8,463.3 L497.8,465.4 L499.7,467.5 L501.7,469.6 L503.8,471.7 L505.8,473.8 L507.7,475.9 L509.8,478.1 L511.8,480.2 L513.8,482.3 L515.8,484.5 L517.8,486.7 L519.8,488.8 L521.8,491.0 L523.8,493.2 L525.8,495.4 L527.8,497.6 L529.8,499.8 L531.8,502.0 L533.8,504.2 L535.8,506.5 L537.8,508.7 L539.8,510.9 L541.8,513.2 L543.8,515.4 L545.8,517.7 L547.8,519.9 L549.8,522.2 L551.8,524.5 L553.8,526.8 L555.8,529.0 L557.8,531.3 L559.8,533.6 L561.8,535.9 L563.8,538.2 L565.8,540.5 L567.8,542.8 L569.8,545.1 L571.8,547.3 L573.8,549.6 L575.8,551.9 L577.8,554.2 L579.8,556.5 L581.8,558.8 L583.8,561.1 L585.8,563.4 L587.8,565.7 L589.8,568.0 L591.8,570.3 L593.8,572.6 L595.8,574.9 L597.8,577.2 L599.8,579.5 L601.8,581.8 L603.8,584.0 L605.8,586.3 L607.8,588.6 L609.8,590.9 L611.8,593.1 L613.7,595.4 L615.8,597.6 L617.8,599.9 L619.8,602.1 L621.8,604.3 L623.8,606.5 L625.8,608.7 L627.8,610.9 L629.7,613.1 L631.8,615.3 L633.8,617.5 L635.8,619.7 L637.8,621.8 L639.8,623.9 L641.8,626.1 L643.8,628.2 L645.7,630.3 L647.8,632.4 L649.8,634.4 L651.8,636.5 L653.8,638.5 L655.8,640.6 L657.8,642.6 L659.8,644.6 L661.7,646.6 L663.8,648.5 L665.8,650.5 L667.8,652.4 L669.8,654.3 L671.8,656.2 L673.8,658.0 L675.8,659.9 L677.7,661.7 L679.8,663.5 L681.8,665.3 L683.8,667.0 L685.8,668.8 L687.8,670.5 L689.8,672.1 L691.8,673.8 L693.7,675.4 L695.8,677.0 L697.8,678.6 L699.8,680.1 L701.8,681.6 L703.8,683.1 L705.8,684.6 L707.8,686.0 L709.7,687.4 L711.8,688.8 L713.8,690.1 L715.8,691.4 L717.8,692.7 L719.8,693.9 L721.8,695.1 L723.8,696.3 L725.7,697.4 L727.8,698.5 L729.8,699.6 L731.8,700.6 L733.8,701.6 L735.8,702.5 L737.8,703.5 L739.8,704.3 L741.7,705.2 L743.8,706.0 L745.8,706.7 L747.8,707.4 L749.8,708.1 L751.8,708.8 L753.8,709.4 L755.8,709.9 L757.7,710.5 L759.8,710.9 L761.8,711.4 L763.8,711.8 L765.8,712.1 L767.8,712.5 L769.8,712.7 L771.8,713.0 L773.7,713.1 L775.8,713.3 L777.8,713.4 L779.8,713.5 L781.8,713.5" stroke="#6d20be" stroke-dasharray="3.3 9.2 16 9.2"/>
<path d="M97.8,254.0 L99.8,254.0 L101.8,254.0 L103.8,254.0 L105.8,254.1 L107.8,254.1 L109.8,254.2 L111.8,254.2 L113.8,254.3 L115.8,254.4 L117.8,254.4 L119.8,254.5 L121.8,254.6 L123.8,254.8 L125.8,254.9 L127.8,255.0 L129.8,255.1 L131.8,255.3 L133.8,255.4 L135.8,255.6 L137.8,255.8 L139.8,256.0 L141.8,256.2 L143.8,256.4 L145.8,256.6 L147.8,256.8 L149.8,257.0 L151.8,257.3 L153.8,257.5 L155.8,257.8 L157.8,258.0 L159.8,258.3 L161.8,258.6 L163.8,258.9 L165.8,259.2 L167.8,259.5 L169.8,259.8 L171.8,260.1 L173.8,260.5 L175.8,260.8 L177.8,261.2 L179.8,261.6 L181.8,261.9 L183.8,262.3 L185.8,262.7 L187.8,263.1 L189.8,263.5 L191.8,264.0 L193.8,264.4 L195.8,264.8 L197.8,265.3 L199.8,265.7 L201.8,266.2 L203.8,266.7 L205.8,267.2 L207.8,267.7 L209.8,268.2 L211.8,268.7 L213.8,269.2 L215.8,269.8 L217.8,270.3 L219.8,270.9 L221.8,271.5 L223.8,272.0 L225.8,272.6 L227.8,273.2 L229.8,273.8 L231.8,274.5 L233.8,275.1 L235.8,275.7 L237.8,276.4 L239.8,277.0 L241.8,277.7 L243.8,278.4 L245.8,279.1 L247.8,279.8 L249.8,280.5 L251.8,281.2 L253.8,281.9 L255.8,282.7 L257.8,283.4 L259.8,284.2 L261.8,285.0 L263.8,285.8 L265.8,286.6 L267.8,287.4 L269.8,288.2 L271.8,289.0 L273.8,289.9 L275.8,290.7 L277.8,291.6 L279.8,292.5 L281.8,293.4 L283.8,294.3 L285.8,295.2 L287.8,296.1 L289.8,297.0 L291.8,298.0 L293.8,298.9 L295.8,299.9 L297.8,300.9 L299.8,301.9 L301.8,302.9 L303.8,303.9 L305.8,304.9 L307.8,306.0 L309.8,307.0 L311.8,308.1 L313.8,309.2 L315.8,310.2 L317.8,311.3 L319.8,312.5 L321.8,313.6 L323.8,314.7 L325.8,315.9 L327.8,317.0 L329.8,318.2 L331.8,319.4 L333.8,320.6 L335.8,321.8 L337.8,323.0 L339.8,324.2 L341.8,325.5 L343.8,326.7 L345.8,328.0 L347.8,329.3 L349.8,330.6 L351.8,331.9 L353.8,333.2 L355.7,334.5 L357.8,335.9 L359.8,337.2 L361.8,338.6 L363.7,340.0 L365.8,341.4 L367.8,342.8 L369.8,344.2 L371.7,345.6 L373.8,347.0 L375.8,348.5 L377.8,350.0 L379.7,351.4 L381.8,352.9 L383.8,354.4 L385.8,355.9 L387.7,357.4 L389.8,359.0 L391.8,360.5 L393.8,362.1 L395.7,363.6 L397.8,365.2 L399.8,366.8 L401.8,368.4 L403.7,370.0 L405.8,371.6 L407.8,373.3 L409.8,374.9 L411.7,376.6 L413.8,378.2 L415.8,379.9 L417.8,381.6 L419.7,383.3 L421.8,385.0 L423.8,386.7 L425.8,388.5 L427.7,390.2 L429.8,391.9 L431.8,393.7 L433.8,395.5 L435.7,397.3 L437.8,399.1 L439.8,400.9 L441.8,402.7 L443.7,404.5 L445.8,406.3 L447.8,408.2 L449.8,410.0 L451.7,411.9 L453.7,413.7 L455.8,415.6 L457.8,417.5 L459.7,419.4 L461.8,421.3 L463.8,423.2 L465.8,425.2 L467.7,427.1 L469.7,429.1 L471.8,431.0 L473.8,433.0 L475.7,434.9 L477.8,436.9 L479.8,438.9 L481.8,440.9 L483.7,442.9 L485.7,444.9 L487.8,447.0 L489.8,449.0 L491.7,451.0 L493.8,453.1 L495.8,455.1 L497.8,457.2 L499.7,459.3 L501.7,461.3 L503.8,463.4 L505.8,465.5 L507.7,467.6 L509.8,469.7 L511.8,471.8 L513.8,474.0 L515.8,476.1 L517.8,478.2 L519.8,480.4 L521.8,482.5 L523.8,484.7 L525.8,486.8 L527.8,489.0 L529.8,491.2 L531.8,493.4 L533.8,495.6 L535.8,497.7 L537.8,499.9 L539.8,502.2 L541.8,504.4 L543.8,506.6 L545.8,508.8 L547.8,511.0 L549.8,513.2 L551.8,515.5 L553.8,517.7 L555.8,519.9 L557.8,522.2 L559.8,524.4 L561.8,526.7 L563.8,528.9 L565.8,531.2 L567.8,533.5 L569.8,535.7 L571.8,538.0 L573.8,540.2 L575.8,542.5 L577.8,544.8 L579.8,547.0 L581.8,549.3 L583.8,551.6 L585.8,553.9 L587.8,556.1 L589.8,558.4 L591.8,560.7 L593.8,562.9 L595.8,565.2 L597.8,567.5 L599.8,569.7 L601.8,572.0 L603.8,574.2 L605.8,576.5 L607.8,578.7 L609.8,581.0 L611.8,583.2 L613.7,585.4 L615.8,587.7 L617.8,589.9 L619.8,592.1 L621.8,594.3 L623.8,596.5 L625.8,598.7 L627.8,600.9 L629.7,603.1 L631.8,605.2 L633.8,607.4 L635.8,609.5 L637.8,611.7 L639.8,613.8 L641.8,615.9 L643.8,618.0 L645.7,620.1 L647.8,622.2 L649.8,624.2 L651.8,626.3 L653.8,628.3 L655.8,630.3 L657.8,632.3 L659.8,634.3 L661.7,636.2 L663.8,638.2 L665.8,640.1 L667.8,642.0 L669.8,643.9 L671.8,645.8 L673.8,647.6 L675.8,649.5 L677.7,651.3 L679.8,653.0 L681.8,654.8 L683.8,656.5 L685.8,658.2 L687.8,659.9 L689.8,661.6 L691.8,663.2 L693.7,664.8 L695.8,666.4 L697.8,668.0 L699.8,669.5 L701.8,671.0 L703.8,672.5 L705.8,673.9 L707.8,675.3 L709.7,676.7 L711.8,678.0 L713.8,679.3 L715.8,680.6 L717.8,681.9 L719.8,683.1 L721.8,684.3 L723.8,685.4 L725.7,686.5 L727.8,687.6 L729.8,688.6 L731.8,689.6 L733.8,690.6 L735.8,691.6 L737.8,692.4 L739.8,693.3 L741.7,694.1 L743.8,694.9 L745.8,695.7 L747.8,696.4 L749.8,697.0 L751.8,697.7 L753.8,698.3 L755.8,698.8 L757.7,699.3 L759.8,699.8 L761.8,700.2 L763.8,700.6 L765.8,701.0 L767.8,701.3 L769.8,701.5 L771.8,701.8 L773.7,701.9 L775.8,702.1 L777.8,702.2 L779.8,702.3 L781.8,702.3" stroke="#0000ff"/>
<path d="M97.8,254.0 L99.8,254.0 L101.8,254.0 L103.8,254.0 L105.8,254.1 L107.8,254.1 L109.8,254.2 L111.8,254.2 L113.8,254.3 L115.8,254.4 L117.8,254.4 L119.8,254.5 L121.8,254.6 L123.8,254.8 L125.8,254.9 L127.8,255.0 L129.8,255.1 L131.8,255.3 L133.8,255.4 L135.8,255.6 L137.8,255.8 L139.8,256.0 L141.8,256.2 L143.8,256.4 L145.8,256.6 L147.8,256.8 L149.8,257.0 L151.8,257.3 L153.8,257.5 L155.8,257.8 L157.8,258.0 L159.8,258.3 L161.8,258.6 L163.8,258.9 L165.8,259.2 L167.8,259.5 L169.8,259.8 L171.8,260.1 L173.8,260.5 L175.8,260.8 L177.8,261.2 L179.8,261.6 L181.8,261.9 L183.8,262.3 L185.8,262.7 L187.8,263.1 L189.8,263.5 L191.8,264.0 L193.8,264.4 L195.8,264.8 L197.8,265.3 L199.8,265.7 L201.8,266.2 L203.8,266.7 L205.8,267.2 L207.8,267.7 L209.8,268.2 L211.8,268.7 L213.8,269.2 L215.8,269.8 L217.8,270.3 L219.8,270.9 L221.8,271.5 L223.8,272.0 L225.8,272.6 L227.8,273.2 L229.8,273.8 L231.8,274.5 L233.8,275.1 L235.8,275.7 L237.8,276.4 L239.8,277.0 L241.8,277.7 L243.8,278.4 L245.8,279.1 L247.8,279.8 L249.8,280.5 L251.8,281.2 L253.8,281.9 L255.8,282.7 L257.8,283.4 L259.8,284.2 L261.8,285.0 L263.8,285.8 L265.8,286.6 L267.8,287.4 L269.8,288.2 L271.8,289.0 L273.8,289.9 L275.8,290.7 L277.8,291.6 L279.8,292.5 L281.8,293.4 L283.8,294.3 L285.8,295.2 L287.8,296.1 L289.8,297.0 L291.8,298.0 L293.8,298.9 L295.8,299.9 L297.8,300.9 L299.8,301.9 L301.8,302.9 L303.8,303.9 L305.8,304.9 L307.8,306.0 L309.8,307.0 L311.8,308.1 L313.8,309.2 L315.8,310.2 L317.8,311.3 L319.8,312.5 L321.8,313.6 L323.8,314.7 L325.8,315.9 L327.8,317.0 L329.8,318.2 L331.8,319.4 L333.8,320.6 L335.8,321.8 L337.8,323.0 L339.8,324.2 L341.8,325.5 L343.8,326.7 L345.8,328.0 L347.8,329.3 L349.8,330.6 L351.8,331.9 L353.8,333.2 L355.7,334.5 L357.8,335.9 L359.8,337.2 L361.8,338.6 L363.7,340.0 L365.8,341.4 L367.8,342.8 L369.8,344.2 L371.7,345.6 L373.8,347.0 L375.8,348.5 L377.8,350.0 L379.7,351.4 L381.8,352.9 L383.8,354.4 L385.8,355.9 L387.7,357.4 L389.8,359.0 L391.8,360.5 L393.8,362.1 L395.7,363.6 L397.8,365.2 L399.8,366.8 L401.8,368.4 L403.7,370.0 L405.8,371.6 L407.8,373.3 L409.8,374.9 L411.7,376.6 L413.8,378.2 L415.8,379.9 L417.8,381.6 L419.7,383.3 L421.8,385.0 L423.8,386.7 L425.8,388.5 L427.7,390.2 L429.8,391.9 L431.8,393.7 L433.8,395.5 L435.7,397.3 L437.8,399.1 L439.8,400.9 L441.8,402.7 L443.7,404.5 L445.8,406.3 L447.8,408.2 L449.8,410.0 L451.7,411.9 L453.7,413.7 L455.8,415.6 L457.8,417.5 L459.7,419.4 L461.8,421.3 L463.8,423.2 L465.8,425.2 L467.7,427.1 L469.7,429.1 L471.8,431.0 L473.8,433.0 L475.7,434.9 L477.8,436.9 L479.8,438.9 L481.8,440.9 L483.7,442.9 L485.7,444.9 L487.8,447.0 L489.8,449.0 L491.7,451.0 L493.8,453.1 L495.8,455.1 L497.8,457.2 L499.7,459.3 L501.7,461.3 L503.8,463.4 L505.8,465.5 L507.7,467.6 L509.8,469.7 L511.8,471.8 L513.8,474.0 L515.8,476.1 L517.8,478.2 L519.8,480.4 L521.8,482.5 L523.8,484.7 L525.8,486.8 L527.8,489.0 L529.8,491.2 L531.8,493.4 L533.8,495.6 L535.8,497.7 L537.8,499.9 L539.8,502.2 L541.8,504.4 L543.8,506.6 L545.8,508.8 L547.8,511.0 L549.8,513.2 L551.8,515.5 L553.8,517.7 L555.8,519.9 L557.8,522.2 L559.8,524.4 L561.8,526.7 L563.8,528.9 L565.8,531.2 L567.8,533.5 L569.8,535.7 L571.8,538.0 L573.8,540.2 L575.8,542.5 L577.8,544.8 L579.8,547.0 L581.8,549.3 L583.8,551.6 L585.8,553.9 L587.8,556.1 L589.8,558.4 L591.8,560.7 L593.8,562.9 L595.8,565.2 L597.8,567.5 L599.8,569.7 L601.8,572.0 L603.8,574.2 L605.8,576.5 L607.8,578.7 L609.8,581.0 L611.8,583.2 L613.7,585.4 L615.8,587.7 L617.8,589.9 L619.8,592.1 L621.8,594.3 L623.8,596.5 L625.8,598.7 L627.8,600.9 L629.7,603.1 L631.8,605.2 L633.8,607.4 L635.8,609.5 L637.8,611.7 L639.8,613.8 L641.8,615.9 L643.8,618.0 L645.7,620.1 L647.8,622.2 L649.8,624.2 L651.8,626.3 L653.8,628.3 L655.8,630.3 L657.8,632.3 L659.8,634.3 L661.7,636.2 L663.8,638.2 L665.8,640.1 L667.8,642.0 L669.8,643.9 L671.8,645.8 L673.8,647.6 L675.8,649.5 L677.7,651.3 L679.8,653.0 L681.8,654.8 L683.8,656.5 L685.8,658.2 L687.8,659.9 L689.8,661.6 L691.8,663.2 L693.7,664.8 L695.8,666.4 L697.8,668.0 L699.8,669.5 L701.8,671.0 L703.8,672.5 L705.8,673.9 L707.8,675.3 L709.7,676.7 L711.8,678.0 L713.8,679.3 L715.8,680.6 L717.8,681.9 L719.8,683.1 L721.8,684.3 L723.8,685.4 L725.7,686.5 L727.8,687.6 L729.8,688.6 L731.8,689.6 L733.8,690.6 L735.8,691.6 L737.8,692.4 L739.8,693.3 L741.7,694.1 L743.8,694.9 L745.8,695.7 L747.8,696.4 L749.8,697.0 L751.8,697.7 L753.8,698.3 L755.8,698.8 L757.7,699.3 L759.8,699.8 L761.8,700.2 L763.8,700.6 L765.8,701.0 L767.8,701.3 L769.8,701.5 L771.8,701.8 L773.7,701.9 L775.8,702.1 L777.8,702.2 L779.8,702.3 L781.8,702.3" stroke="#00ffff" stroke-dasharray="16 9.2"/>
<path d="M97.8,236.5 L99.8,236.5 L101.8,236.5 L103.8,236.5 L105.8,236.6 L107.8,236.6 L109.8,236.6 L111.8,236.7 L113.8,236.7 L115.8,236.8 L117.8,236.9 L119.8,237.0 L121.8,237.1 L123.8,237.2 L125.8,237.3 L127.8,237.4 L129.8,237.5 L131.8,237.6 L133.8,237.8 L135.8,237.9 L137.8,238.1 L139.8,238.2 L141.8,238.4 L143.8,238.6 L145.8,238.8 L147.8,239.0 L149.8,239.2 L151.8,239.4 L153.8,239.6 L155.8,239.8 L157.8,240.1 L159.8,240.3 L161.8,240.6 L163.8,240.9 L165.8,241.1 L167.8,241.4 L169.8,241.7 L171.8,242.0 L173.8,242.3 L175.8,242.6 L177.8,243.0 L179.8,243.3 L181.8,243.7 L183.8,244.0 L185.8,244.4 L187.8,244.8 L189.8,245.2 L191.8,245.6 L193.8,246.0 L195.8,246.4 L197.8,246.8 L199.8,247.3 L201.8,247.7 L203.8,248.2 L205.8,248.7 L207.8,249.1 L209.8,249.6 L211.8,250.1 L213.8,250.6 L215.8,251.2 L217.8,251.7 L219.8,252.2 L221.8,252.8 L223.8,253.4 L225.8,253.9 L227.8,254.5 L229.8,255.1 L231.8,255.7 L233.8,256.4 L235.8,257.0 L237.8,257.6 L239.8,258.3 L241.8,258.9 L243.8,259.6 L245.8,260.3 L247.8,261.0 L249.8,261.7 L251.8,262.4 L253.8,263.2 L255.8,263.9 L257.8,264.7 L259.8,265.4 L261.8,266.2 L263.8,267.0 L265.8,267.8 L267.8,268.6 L269.8,269.5 L271.8,270.3 L273.8,271.1 L275.8,272.0 L277.8,272.9 L279.8,273.8 L281.8,274.7 L283.8,275.6 L285.8,276.5 L287.8,277.4 L289.8,278.4 L291.8,279.3 L293.8,280.3 L295.8,281.3 L297.8,282.3 L299.8,283.3 L301.8,284.3 L303.8,285.3 L305.8,286.4 L307.8,287.4 L309.8,288.5 L311.8,289.6 L313.8,290.7 L315.8,291.8 L317.8,292.9 L319.8,294.0 L321.8,295.2 L323.8,296.3 L325.8,297.5 L327.8,298.7 L329.8,299.9 L331.8,301.1 L333.8,302.3 L335.8,303.5 L337.8,304.8 L339.8,306.1 L341.8,307.3 L343.8,308.6 L345.8,309.9 L347.8,311.2 L349.8,312.6 L351.8,313.9 L353.8,315.3 L355.7,316.6 L357.8,318.0 L359.8,319.4 L361.8,320.8 L363.7,322.2 L365.8,323.7 L367.8,325.1 L369.8,326.6 L371.7,328.1 L373.8,329.6 L375.8,331.1 L377.8,332.6 L379.7,334.1 L381.8,335.7 L383.8,337.2 L385.8,338.8 L387.7,340.4 L389.8,342.0 L391.8,343.6 L393.8,345.3 L395.7,346.9 L397.8,348.6 L399.8,350.3 L401.8,352.0 L403.7,353.7 L405.8,355.4 L407.8,357.1 L409.8,358.9 L411.7,360.6 L413.8,362.4 L415.8,364.2 L417.8,366.0 L419.7,367.8 L421.8,369.6 L423.8,371.5 L425.8,373.3 L427.7,375.2 L429.8,377.1 L431.8,379.0 L433.8,380.9 L435.7,382.8 L437.8,384.8 L439.8,386.7 L441.8,388.7 L443.7,390.7 L445.8,392.7 L447.8,394.7 L449.8,396.7 L451.7,398.7 L453.7,400.8 L455.8,402.8 L457.8,404.9 L459.7,407.0 L461.8,409.1 L463.8,411.2 L465.8,413.3 L467.7,415.4 L469.7,417.6 L471.8,419.7 L473.8,421.9 L475.7,424.1 L477.8,426.3 L479.8,428.5 L481.8,430.7 L483.7,432.9 L485.7,435.2 L487.8,437.4 L489.8,439.7 L491.7,441.9 L493.8,444.2 L495.8,446.5 L497.8,448.8 L499.7,451.1 L501.7,453.4 L503.8,455.7 L505.8,458.1 L507.7,460.4 L509.8,462.8 L511.8,465.1 L513.8,467.5 L515.8,469.9 L517.8,472.3 L519.8,474.7 L521.8,477.1 L523.8,479.5 L525.8,481.9 L527.8,484.3 L529.8,486.8 L531.8,489.2 L533.8,491.7 L535.8,494.1 L537.8,496.6 L539.8,499.1 L541.8,501.5 L543.8,504.0 L545.8,506.5 L547.8,509.0 L549.8,511.5 L551.8,514.0 L553.8,516.5 L555.8,519.0 L557.8,521.5 L559.8,524.0 L561.8,526.6 L563.8,529.1 L565.8,531.6 L567.8,534.2 L569.8,536.7 L571.8,539.2 L573.8,541.8 L575.8,544.3 L577.8,546.9 L579.8,549.4 L581.8,552.0 L583.8,554.5 L585.8,557.0 L587.8,559.6 L589.8,562.1 L591.8,564.7 L593.8,567.2 L595.8,569.8 L597.8,572.3 L599.8,574.9 L601.8,577.4 L603.8,579.9 L605.8,582.5 L607.8,585.0 L609.8,587.5 L611.8,590.0 L613.7,592.5 L615.8,595.0 L617.8,597.5 L619.8,600.0 L621.8,602.5 L623.8,605.0 L625.8,607.5 L627.8,609.9 L629.7,612.4 L631.8,614.8 L633.8,617.3 L635.8,619.7 L637.8,622.1 L639.8,624.5 L641.8,626.9 L643.8,629.3 L645.7,631.6 L647.8,634.0 L649.8,636.3 L651.8,638.6 L653.8,640.9 L655.8,643.2 L657.8,645.5 L659.8,647.7 L661.7,650.0 L663.8,652.2 L665.8,654.4 L667.8,656.6 L669.8,658.7 L671.8,660.8 L673.8,662.9 L675.8,665.0 L677.7,667.1 L679.8,669.1 L681.8,671.1 L683.8,673.1 L685.8,675.1 L687.8,677.0 L689.8,678.9 L691.8,680.8 L693.7,682.6 L695.8,684.4 L697.8,686.2 L699.8,688.0 L701.8,689.7 L703.8,691.4 L705.8,693.0 L707.8,694.7 L709.7,696.3 L711.8,697.8 L713.8,699.3 L715.8,700.8 L717.8,702.2 L719.8,703.7 L721.8,705.0 L723.8,706.3 L725.7,707.6 L727.8,708.9 L729.8,710.1 L731.8,711.3 L733.8,712.4 L735.8,713.5 L737.8,714.5 L739.8,715.5 L741.7,716.5 L743.8,717.4 L745.8,718.2 L747.8,719.1 L749.8,719.8 L751.8,720.6 L753.8,721.3 L755.8,721.9 L757.7,722.5 L759.8,723.0 L761.8,723.5 L763.8,724.0 L765.8,724.4 L767.8,724.8 L769.8,725.1 L771.8,725.3 L773.7,725.6 L775.8,725.7 L777.8,725.8 L779.8,725.9 L781.8,725.9" stroke="#000" stroke-dasharray="3.3 9.3"/>
</g>
<path d="M166.15,747.4 v-10.5 M166.15,11.3 v10.5 M234.55,747.4 v-21.2 M234.55,11.3 v21.2 M302.95,747.4 v-10.5 M302.95,11.3 v10.5 M371.35,747.4 v-21.2 M371.35,11.3 v21.2 M439.75,747.4 v-10.5 M439.75,11.3 v10.5 M508.15,747.4 v-21.2 M508.15,11.3 v21.2 M576.55,747.4 v-10.5 M576.55,11.3 v10.5 M644.95,747.4 v-21.2 M644.95,11.3 v21.2 M713.35,747.4 v-10.5 M713.35,11.3 v10.5 M97.75,694.82 h10.5 M781.75,694.82 h-10.5 M97.75,642.24 h21.2 M781.75,642.24 h-21.2 M97.75,589.66 h10.5 M781.75,589.66 h-10.5 M97.75,537.09 h21.2 M781.75,537.09 h-21.2 M97.75,484.51 h10.5 M781.75,484.51 h-10.5 M97.75,431.93 h21.2 M781.75,431.93 h-21.2 M97.75,379.35 h10.5 M781.75,379.35 h-10.5 M97.75,326.77 h21.2 M781.75,326.77 h-21.2 M97.75,274.19 h10.5 M781.75,274.19 h-10.5 M97.75,221.61 h21.2 M781.75,221.61 h-21.2 M97.75,169.04 h10.5 M781.75,169.04 h-10.5 M97.75,116.46 h21.2 M781.75,116.46 h-21.2 M97.75,63.88 h10.5 M781.75,63.88 h-10.5" fill="none" stroke="#000" stroke-width="3.3"/>
<rect x="97.75" y="11.3" width="684.0" height="736.1" fill="none" stroke="#000" stroke-width="3.3" stroke-linejoin="round"/>
<g font-size="29.9" text-anchor="end">
<text x="87.9" y="757.5">0.6</text>
<text x="87.9" y="652.3">0.8</text>
<text x="87.9" y="547.2">1</text>
<text x="87.9" y="442.0">1.2</text>
<text x="87.9" y="336.9">1.4</text>
<text x="87.9" y="231.7">1.6</text>
<text x="87.9" y="126.6">1.8</text>
<text x="87.9" y="21.4">2</text>
</g>
<g font-size="29.9" text-anchor="middle">
<text x="97.8" y="778.4">0</text>
<text x="234.6" y="778.4">0.2</text>
<text x="371.4" y="778.4">0.4</text>
<text x="508.1" y="778.4">0.6</text>
<text x="645.0" y="778.4">0.8</text>
<text x="781.8" y="778.4">1</text>
</g>
<text x="440.3" y="812.7" font-size="35.1" text-anchor="middle"><tspan font-style="italic">K</tspan>/π</text>
<g transform="translate(26.3,412) rotate(-90)"><text transform="translate(0,0) scale(0.97,1)" font-size="37.9" stroke="#000" stroke-width="0.45" stroke-linejoin="round">ω</text><text x="23.4" y="0" font-size="35.1">/<tspan font-style="italic">J</tspan></text><path d="M49.2,14.0 h16.3 M57.35,14.0 v-16.2" stroke="#000" stroke-width="1.4" fill="none"/></g>
<text x="129.2" y="64.2" font-size="35.1">(b)</text>
<text x="193.2" y="138.2" font-size="35.1" letter-spacing="0.15">two-particle</text>
<text x="193.2" y="173.1" font-size="35.1">continuum</text>
<text x="644.5" y="84.9" font-size="35.1"><tspan font-style="italic">x</tspan>=0.5</text>
<text x="644.5" y="120.4" font-size="35.1"><tspan font-style="italic">y</tspan>=0.1</text>
<text x="410" y="293.7" font-size="35.1"><tspan font-style="italic">y</tspan>=0.0</text>
<text transform="translate(554.6,481) scale(1.045,1)" font-size="37.9" stroke="#000" stroke-width="0.45" stroke-linejoin="round">ω</text>
<text x="579.5" y="494.7" font-size="24.9">1</text>
<text x="590.8" y="481" font-size="35.1">(<tspan font-style="italic">K</tspan>)</text>
<path d="M404.9,292.6 L378.6,320.8 M381.4,310.6 L378.3,321.1 L389.4,317.4" fill="none" stroke="#000" stroke-width="3.3" stroke-linejoin="miter"/>
<path d="M126.7,488.8 H168.2" stroke="#000" stroke-width="3.3" fill="none"/>
<text x="190.3" y="491.4" font-size="26.45"><tspan font-style="italic">F</tspan><tspan font-size="18.78" dy="9.7">pc</tspan><tspan dy="-9.7">, </tspan><tspan font-style="italic">N</tspan>=4, <tspan font-weight="bold">d</tspan>=(10,8,8,5,5,3,3)</text>
<path d="M126.7,532.3 H168.2" stroke="#00ff00" stroke-width="3.3" stroke-dasharray="16 9.2" fill="none"/>
<text x="190.3" y="534.9" font-size="26.45"><tspan font-style="italic">F</tspan><tspan font-size="18.78" dy="9.7">gs,1p</tspan><tspan dy="-9.7">, </tspan><tspan font-style="italic">N</tspan>=4, <tspan font-weight="bold">d</tspan>=(10,8,8,5,5,3,3)</text>
<path d="M126.7,575.8 H168.2" stroke="#ff0000" stroke-width="3.3" stroke-dasharray="3.3 9.3" fill="none"/>
<text x="190.3" y="578.4" font-size="26.45"><tspan font-style="italic">F</tspan><tspan font-size="18.78" dy="9.7">gs,1p</tspan><tspan dy="-9.7">, </tspan><tspan font-style="italic">N</tspan>=5, <tspan font-weight="bold">d</tspan>=(12,10,10,6,6,5,5,4,4)</text>
<path d="M126.7,619.3 H168.2" stroke="#6d20be" stroke-width="3.3" stroke-dasharray="3.3 9.3 16 9.3" fill="none"/>
<text x="190.3" y="621.9" font-size="26.45"><tspan font-style="italic">F</tspan><tspan font-size="18.78" dy="9.7">gs,1p</tspan><tspan dy="-9.7">, </tspan><tspan font-style="italic">N</tspan>=5, <tspan font-weight="bold">d</tspan>=(18,14,14,6,6,5,5,4,4)</text>
<path d="M126.7,662.8 H168.2" stroke="#0000ff" stroke-width="3.3" fill="none"/>
<text x="190.3" y="665.4" font-size="26.45"><tspan font-style="italic">F</tspan><tspan font-size="18.78" dy="9.7">gs</tspan><tspan dy="-9.7">, </tspan><tspan font-style="italic">N</tspan>=5, <tspan font-weight="bold">d</tspan>=(12,10,10,6,6,5,5,4,4)</text>
<path d="M126.7,706.3 H168.2" stroke="#00ffff" stroke-width="3.3" stroke-dasharray="16 9.2" fill="none"/>
<text x="190.3" y="708.9" font-size="26.45"><tspan font-style="italic">F</tspan><tspan font-size="18.78" dy="9.7">gs</tspan><tspan dy="-9.7">, </tspan><tspan font-style="italic">N</tspan>=5, <tspan font-weight="bold">d</tspan>=(18,14,14,6,6,5,5,4,4)</text>
</svg>
</body></html>
